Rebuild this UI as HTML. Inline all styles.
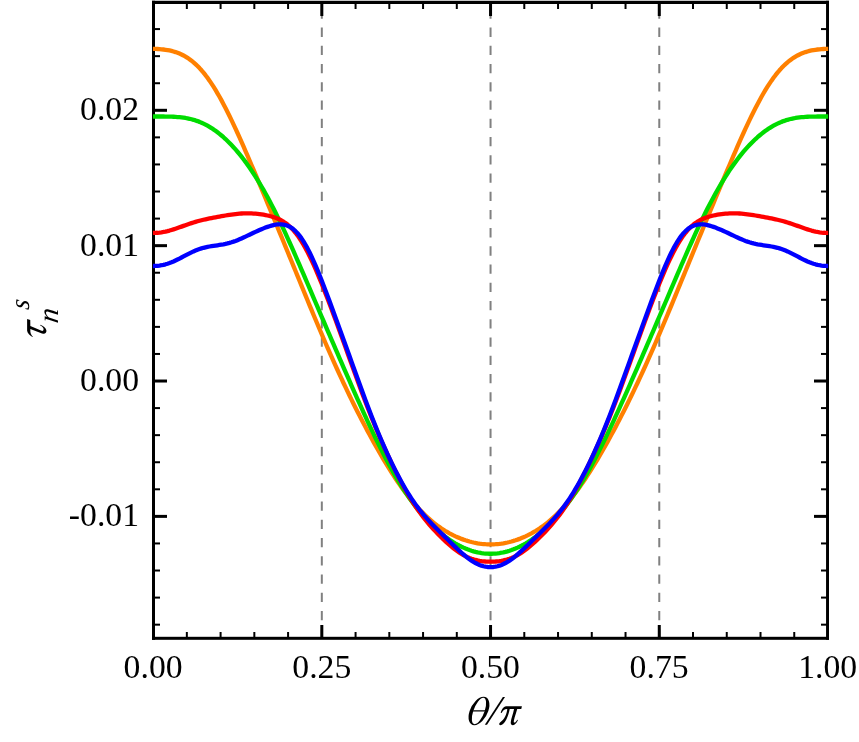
<!DOCTYPE html>
<html><head><meta charset="utf-8"><title>chart</title>
<style>
html,body{margin:0;padding:0;background:#fff;}
body{width:859px;height:742px;position:relative;overflow:hidden;font-family:"Liberation Serif",serif;}
.s{font-family:"Liberation Serif",serif;fill:#000;}
</style></head><body>
<svg width="859" height="742" viewBox="0 0 859 742" style="position:absolute;left:0;top:0;will-change:transform">
<rect x="0" y="0" width="859" height="742" fill="#fff"/>
<line x1="321.82" y1="4" x2="321.82" y2="638.4" stroke="#808080" stroke-width="2" stroke-dasharray="9.3 8.93" stroke-dashoffset="12.88"/>
<line x1="490.55" y1="4" x2="490.55" y2="638.4" stroke="#808080" stroke-width="2" stroke-dasharray="9.3 8.93" stroke-dashoffset="12.88"/>
<line x1="659.27" y1="4" x2="659.27" y2="638.4" stroke="#808080" stroke-width="2" stroke-dasharray="9.3 8.93" stroke-dashoffset="12.88"/>
<line x1="186.84" y1="638.4" x2="186.84" y2="632" stroke="#000" stroke-width="2"/>
<line x1="186.84" y1="2.45" x2="186.84" y2="9" stroke="#000" stroke-width="2"/>
<line x1="220.59" y1="638.4" x2="220.59" y2="632" stroke="#000" stroke-width="2"/>
<line x1="220.59" y1="2.45" x2="220.59" y2="9" stroke="#000" stroke-width="2"/>
<line x1="254.33" y1="638.4" x2="254.33" y2="632" stroke="#000" stroke-width="2"/>
<line x1="254.33" y1="2.45" x2="254.33" y2="9" stroke="#000" stroke-width="2"/>
<line x1="288.08" y1="638.4" x2="288.08" y2="632" stroke="#000" stroke-width="2"/>
<line x1="288.08" y1="2.45" x2="288.08" y2="9" stroke="#000" stroke-width="2"/>
<line x1="321.82" y1="638.4" x2="321.82" y2="625" stroke="#000" stroke-width="3"/>
<line x1="321.82" y1="2.45" x2="321.82" y2="16" stroke="#000" stroke-width="3"/>
<line x1="355.57" y1="638.4" x2="355.57" y2="632" stroke="#000" stroke-width="2"/>
<line x1="355.57" y1="2.45" x2="355.57" y2="9" stroke="#000" stroke-width="2"/>
<line x1="389.31" y1="638.4" x2="389.31" y2="632" stroke="#000" stroke-width="2"/>
<line x1="389.31" y1="2.45" x2="389.31" y2="9" stroke="#000" stroke-width="2"/>
<line x1="423.06" y1="638.4" x2="423.06" y2="632" stroke="#000" stroke-width="2"/>
<line x1="423.06" y1="2.45" x2="423.06" y2="9" stroke="#000" stroke-width="2"/>
<line x1="456.80" y1="638.4" x2="456.80" y2="632" stroke="#000" stroke-width="2"/>
<line x1="456.80" y1="2.45" x2="456.80" y2="9" stroke="#000" stroke-width="2"/>
<line x1="490.55" y1="638.4" x2="490.55" y2="625" stroke="#000" stroke-width="3"/>
<line x1="490.55" y1="2.45" x2="490.55" y2="16" stroke="#000" stroke-width="3"/>
<line x1="524.29" y1="638.4" x2="524.29" y2="632" stroke="#000" stroke-width="2"/>
<line x1="524.29" y1="2.45" x2="524.29" y2="9" stroke="#000" stroke-width="2"/>
<line x1="558.04" y1="638.4" x2="558.04" y2="632" stroke="#000" stroke-width="2"/>
<line x1="558.04" y1="2.45" x2="558.04" y2="9" stroke="#000" stroke-width="2"/>
<line x1="591.78" y1="638.4" x2="591.78" y2="632" stroke="#000" stroke-width="2"/>
<line x1="591.78" y1="2.45" x2="591.78" y2="9" stroke="#000" stroke-width="2"/>
<line x1="625.53" y1="638.4" x2="625.53" y2="632" stroke="#000" stroke-width="2"/>
<line x1="625.53" y1="2.45" x2="625.53" y2="9" stroke="#000" stroke-width="2"/>
<line x1="659.27" y1="638.4" x2="659.27" y2="625" stroke="#000" stroke-width="3"/>
<line x1="659.27" y1="2.45" x2="659.27" y2="16" stroke="#000" stroke-width="3"/>
<line x1="693.02" y1="638.4" x2="693.02" y2="632" stroke="#000" stroke-width="2"/>
<line x1="693.02" y1="2.45" x2="693.02" y2="9" stroke="#000" stroke-width="2"/>
<line x1="726.76" y1="638.4" x2="726.76" y2="632" stroke="#000" stroke-width="2"/>
<line x1="726.76" y1="2.45" x2="726.76" y2="9" stroke="#000" stroke-width="2"/>
<line x1="760.51" y1="638.4" x2="760.51" y2="632" stroke="#000" stroke-width="2"/>
<line x1="760.51" y1="2.45" x2="760.51" y2="9" stroke="#000" stroke-width="2"/>
<line x1="794.25" y1="638.4" x2="794.25" y2="632" stroke="#000" stroke-width="2"/>
<line x1="794.25" y1="2.45" x2="794.25" y2="9" stroke="#000" stroke-width="2"/>
<line x1="153.5" y1="624.67" x2="160" y2="624.67" stroke="#000" stroke-width="2"/>
<line x1="827.5" y1="624.67" x2="821" y2="624.67" stroke="#000" stroke-width="2"/>
<line x1="153.5" y1="597.60" x2="160" y2="597.60" stroke="#000" stroke-width="2"/>
<line x1="827.5" y1="597.60" x2="821" y2="597.60" stroke="#000" stroke-width="2"/>
<line x1="153.5" y1="570.52" x2="160" y2="570.52" stroke="#000" stroke-width="2"/>
<line x1="827.5" y1="570.52" x2="821" y2="570.52" stroke="#000" stroke-width="2"/>
<line x1="153.5" y1="543.45" x2="160" y2="543.45" stroke="#000" stroke-width="2"/>
<line x1="827.5" y1="543.45" x2="821" y2="543.45" stroke="#000" stroke-width="2"/>
<line x1="153.5" y1="516.38" x2="167" y2="516.38" stroke="#000" stroke-width="3"/>
<line x1="827.5" y1="516.38" x2="814" y2="516.38" stroke="#000" stroke-width="3"/>
<line x1="153.5" y1="489.31" x2="160" y2="489.31" stroke="#000" stroke-width="2"/>
<line x1="827.5" y1="489.31" x2="821" y2="489.31" stroke="#000" stroke-width="2"/>
<line x1="153.5" y1="462.24" x2="160" y2="462.24" stroke="#000" stroke-width="2"/>
<line x1="827.5" y1="462.24" x2="821" y2="462.24" stroke="#000" stroke-width="2"/>
<line x1="153.5" y1="435.16" x2="160" y2="435.16" stroke="#000" stroke-width="2"/>
<line x1="827.5" y1="435.16" x2="821" y2="435.16" stroke="#000" stroke-width="2"/>
<line x1="153.5" y1="408.09" x2="160" y2="408.09" stroke="#000" stroke-width="2"/>
<line x1="827.5" y1="408.09" x2="821" y2="408.09" stroke="#000" stroke-width="2"/>
<line x1="153.5" y1="381.02" x2="167" y2="381.02" stroke="#000" stroke-width="3"/>
<line x1="827.5" y1="381.02" x2="814" y2="381.02" stroke="#000" stroke-width="3"/>
<line x1="153.5" y1="353.95" x2="160" y2="353.95" stroke="#000" stroke-width="2"/>
<line x1="827.5" y1="353.95" x2="821" y2="353.95" stroke="#000" stroke-width="2"/>
<line x1="153.5" y1="326.88" x2="160" y2="326.88" stroke="#000" stroke-width="2"/>
<line x1="827.5" y1="326.88" x2="821" y2="326.88" stroke="#000" stroke-width="2"/>
<line x1="153.5" y1="299.80" x2="160" y2="299.80" stroke="#000" stroke-width="2"/>
<line x1="827.5" y1="299.80" x2="821" y2="299.80" stroke="#000" stroke-width="2"/>
<line x1="153.5" y1="272.73" x2="160" y2="272.73" stroke="#000" stroke-width="2"/>
<line x1="827.5" y1="272.73" x2="821" y2="272.73" stroke="#000" stroke-width="2"/>
<line x1="153.5" y1="245.66" x2="167" y2="245.66" stroke="#000" stroke-width="3"/>
<line x1="827.5" y1="245.66" x2="814" y2="245.66" stroke="#000" stroke-width="3"/>
<line x1="153.5" y1="218.59" x2="160" y2="218.59" stroke="#000" stroke-width="2"/>
<line x1="827.5" y1="218.59" x2="821" y2="218.59" stroke="#000" stroke-width="2"/>
<line x1="153.5" y1="191.52" x2="160" y2="191.52" stroke="#000" stroke-width="2"/>
<line x1="827.5" y1="191.52" x2="821" y2="191.52" stroke="#000" stroke-width="2"/>
<line x1="153.5" y1="164.44" x2="160" y2="164.44" stroke="#000" stroke-width="2"/>
<line x1="827.5" y1="164.44" x2="821" y2="164.44" stroke="#000" stroke-width="2"/>
<line x1="153.5" y1="137.37" x2="160" y2="137.37" stroke="#000" stroke-width="2"/>
<line x1="827.5" y1="137.37" x2="821" y2="137.37" stroke="#000" stroke-width="2"/>
<line x1="153.5" y1="110.30" x2="167" y2="110.30" stroke="#000" stroke-width="3"/>
<line x1="827.5" y1="110.30" x2="814" y2="110.30" stroke="#000" stroke-width="3"/>
<line x1="153.5" y1="83.23" x2="160" y2="83.23" stroke="#000" stroke-width="2"/>
<line x1="827.5" y1="83.23" x2="821" y2="83.23" stroke="#000" stroke-width="2"/>
<line x1="153.5" y1="56.16" x2="160" y2="56.16" stroke="#000" stroke-width="2"/>
<line x1="827.5" y1="56.16" x2="821" y2="56.16" stroke="#000" stroke-width="2"/>
<line x1="153.5" y1="29.08" x2="160" y2="29.08" stroke="#000" stroke-width="2"/>
<line x1="827.5" y1="29.08" x2="821" y2="29.08" stroke="#000" stroke-width="2"/>
<rect x="152.0" y="0.78" width="677.0" height="3.22" fill="#000"/>
<rect x="152.0" y="636.8" width="677.0" height="3.0" fill="#000"/>
<rect x="152.0" y="0.78" width="3.0" height="639.02" fill="#000"/>
<rect x="826.05" y="0.78" width="2.95" height="639.02" fill="#000"/>
<path d="M152.9,48.93 L153.5,48.93 L155.5,48.95 L157.5,49.01 L159.5,49.13 L161.5,49.29 L163.5,49.50 L165.5,49.76 L167.5,50.08 L169.5,50.47 L171.5,50.93 L173.5,51.46 L175.5,52.07 L177.5,52.77 L179.5,53.57 L181.5,54.46 L183.5,55.47 L185.5,56.59 L187.5,57.83 L189.5,59.19 L191.5,60.69 L193.5,62.32 L195.5,64.10 L197.5,66.02 L199.5,68.08 L201.5,70.29 L203.5,72.66 L205.5,75.17 L207.5,77.83 L209.5,80.64 L211.5,83.59 L213.5,86.68 L215.5,89.92 L217.5,93.29 L219.5,96.78 L221.5,100.40 L223.5,104.14 L225.5,107.98 L227.5,111.94 L229.5,115.98 L231.5,120.12 L233.5,124.34 L235.5,128.64 L237.5,133.00 L239.5,137.43 L241.5,141.92 L243.5,146.45 L245.5,151.03 L247.5,155.64 L249.5,160.29 L251.5,164.97 L253.5,169.67 L255.5,174.40 L257.5,179.14 L259.5,183.90 L261.5,188.68 L263.5,193.46 L265.5,198.26 L267.5,203.06 L269.5,207.88 L271.5,212.70 L273.5,217.53 L275.5,222.36 L277.5,227.21 L279.5,232.06 L281.5,236.91 L283.5,241.78 L285.5,246.64 L287.5,251.52 L289.5,256.39 L291.5,261.27 L293.5,266.16 L295.5,271.04 L297.5,275.92 L299.5,280.80 L301.5,285.68 L303.5,290.55 L305.5,295.41 L307.5,300.26 L309.5,305.10 L311.5,309.92 L313.5,314.72 L315.5,319.50 L317.5,324.25 L319.5,328.98 L321.5,333.68 L323.5,338.35 L325.5,342.99 L327.5,347.59 L329.5,352.16 L331.5,356.68 L333.5,361.17 L335.5,365.61 L337.5,370.01 L339.5,374.37 L341.5,378.69 L343.5,382.97 L345.5,387.19 L347.5,391.38 L349.5,395.52 L351.5,399.62 L353.5,403.68 L355.5,407.69 L357.5,411.66 L359.5,415.59 L361.5,419.47 L363.5,423.32 L365.5,427.12 L367.5,430.88 L369.5,434.59 L371.5,438.26 L373.5,441.89 L375.5,445.47 L377.5,449.00 L379.5,452.49 L381.5,455.92 L383.5,459.31 L385.5,462.64 L387.5,465.92 L389.5,469.15 L391.5,472.31 L393.5,475.42 L395.5,478.46 L397.5,481.43 L399.5,484.35 L401.5,487.19 L403.5,489.96 L405.5,492.66 L407.5,495.29 L409.5,497.84 L411.5,500.32 L413.5,502.73 L415.5,505.05 L417.5,507.30 L419.5,509.48 L421.5,511.57 L423.5,513.59 L425.5,515.54 L427.5,517.41 L429.5,519.20 L431.5,520.92 L433.5,522.57 L435.5,524.15 L437.5,525.66 L439.5,527.10 L441.5,528.48 L443.5,529.79 L445.5,531.04 L447.5,532.22 L449.5,533.35 L451.5,534.41 L453.5,535.42 L455.5,536.37 L457.5,537.26 L459.5,538.10 L461.5,538.89 L463.5,539.62 L465.5,540.30 L467.5,540.92 L469.5,541.49 L471.5,542.01 L473.5,542.48 L475.5,542.90 L477.5,543.26 L479.5,543.57 L481.5,543.83 L483.5,544.04 L485.5,544.20 L487.5,544.30 L489.5,544.36 L491.5,544.36 L493.5,544.30 L495.5,544.20 L497.5,544.04 L499.5,543.83 L501.5,543.57 L503.5,543.26 L505.5,542.90 L507.5,542.48 L509.5,542.01 L511.5,541.49 L513.5,540.92 L515.5,540.30 L517.5,539.62 L519.5,538.89 L521.5,538.10 L523.5,537.26 L525.5,536.37 L527.5,535.42 L529.5,534.41 L531.5,533.35 L533.5,532.22 L535.5,531.04 L537.5,529.79 L539.5,528.48 L541.5,527.10 L543.5,525.66 L545.5,524.15 L547.5,522.57 L549.5,520.92 L551.5,519.20 L553.5,517.41 L555.5,515.54 L557.5,513.59 L559.5,511.57 L561.5,509.48 L563.5,507.30 L565.5,505.05 L567.5,502.73 L569.5,500.32 L571.5,497.84 L573.5,495.29 L575.5,492.66 L577.5,489.96 L579.5,487.19 L581.5,484.35 L583.5,481.43 L585.5,478.46 L587.5,475.42 L589.5,472.31 L591.5,469.15 L593.5,465.92 L595.5,462.64 L597.5,459.31 L599.5,455.92 L601.5,452.49 L603.5,449.00 L605.5,445.47 L607.5,441.89 L609.5,438.26 L611.5,434.59 L613.5,430.88 L615.5,427.12 L617.5,423.32 L619.5,419.47 L621.5,415.59 L623.5,411.66 L625.5,407.69 L627.5,403.68 L629.5,399.62 L631.5,395.52 L633.5,391.38 L635.5,387.19 L637.5,382.97 L639.5,378.69 L641.5,374.37 L643.5,370.01 L645.5,365.61 L647.5,361.17 L649.5,356.68 L651.5,352.16 L653.5,347.59 L655.5,342.99 L657.5,338.35 L659.5,333.68 L661.5,328.98 L663.5,324.25 L665.5,319.50 L667.5,314.72 L669.5,309.92 L671.5,305.10 L673.5,300.26 L675.5,295.41 L677.5,290.55 L679.5,285.68 L681.5,280.80 L683.5,275.92 L685.5,271.04 L687.5,266.16 L689.5,261.27 L691.5,256.39 L693.5,251.52 L695.5,246.64 L697.5,241.78 L699.5,236.91 L701.5,232.06 L703.5,227.21 L705.5,222.36 L707.5,217.53 L709.5,212.70 L711.5,207.88 L713.5,203.06 L715.5,198.26 L717.5,193.46 L719.5,188.68 L721.5,183.90 L723.5,179.14 L725.5,174.40 L727.5,169.67 L729.5,164.97 L731.5,160.29 L733.5,155.64 L735.5,151.03 L737.5,146.45 L739.5,141.92 L741.5,137.43 L743.5,133.00 L745.5,128.64 L747.5,124.34 L749.5,120.12 L751.5,115.98 L753.5,111.94 L755.5,107.98 L757.5,104.14 L759.5,100.40 L761.5,96.78 L763.5,93.29 L765.5,89.92 L767.5,86.68 L769.5,83.59 L771.5,80.64 L773.5,77.83 L775.5,75.17 L777.5,72.66 L779.5,70.29 L781.5,68.08 L783.5,66.02 L785.5,64.10 L787.5,62.32 L789.5,60.69 L791.5,59.19 L793.5,57.83 L795.5,56.59 L797.5,55.47 L799.5,54.46 L801.5,53.57 L803.5,52.77 L805.5,52.07 L807.5,51.46 L809.5,50.93 L811.5,50.47 L813.5,50.08 L815.5,49.76 L817.5,49.50 L819.5,49.29 L821.5,49.13 L823.5,49.01 L825.5,48.95 L827.5,48.93 L828.2,48.93" fill="none" stroke="#ff8000" stroke-width="4.3" stroke-linejoin="round" stroke-linecap="butt"/>
<path d="M152.9,116.48 L153.5,116.48 L155.5,116.48 L157.5,116.48 L159.5,116.49 L161.5,116.50 L163.5,116.51 L165.5,116.53 L167.5,116.56 L169.5,116.61 L171.5,116.68 L173.5,116.76 L175.5,116.88 L177.5,117.02 L179.5,117.20 L181.5,117.42 L183.5,117.68 L185.5,117.99 L187.5,118.36 L189.5,118.78 L191.5,119.26 L193.5,119.81 L195.5,120.42 L197.5,121.11 L199.5,121.87 L201.5,122.70 L203.5,123.62 L205.5,124.61 L207.5,125.68 L209.5,126.83 L211.5,128.07 L213.5,129.39 L215.5,130.79 L217.5,132.27 L219.5,133.84 L221.5,135.50 L223.5,137.23 L225.5,139.05 L227.5,140.96 L229.5,142.94 L231.5,145.02 L233.5,147.17 L235.5,149.41 L237.5,151.74 L239.5,154.15 L241.5,156.64 L243.5,159.23 L245.5,161.90 L247.5,164.66 L249.5,167.50 L251.5,170.44 L253.5,173.47 L255.5,176.58 L257.5,179.79 L259.5,183.08 L261.5,186.47 L263.5,189.94 L265.5,193.50 L267.5,197.15 L269.5,200.88 L271.5,204.69 L273.5,208.59 L275.5,212.56 L277.5,216.61 L279.5,220.73 L281.5,224.91 L283.5,229.16 L285.5,233.47 L287.5,237.83 L289.5,242.25 L291.5,246.71 L293.5,251.21 L295.5,255.75 L297.5,260.32 L299.5,264.91 L301.5,269.53 L303.5,274.18 L305.5,278.83 L307.5,283.50 L309.5,288.18 L311.5,292.86 L313.5,297.55 L315.5,302.24 L317.5,306.92 L319.5,311.61 L321.5,316.28 L323.5,320.96 L325.5,325.63 L327.5,330.29 L329.5,334.94 L331.5,339.58 L333.5,344.22 L335.5,348.85 L337.5,353.47 L339.5,358.08 L341.5,362.68 L343.5,367.27 L345.5,371.85 L347.5,376.42 L349.5,380.97 L351.5,385.51 L353.5,390.04 L355.5,394.54 L357.5,399.03 L359.5,403.49 L361.5,407.92 L363.5,412.33 L365.5,416.71 L367.5,421.05 L369.5,425.35 L371.5,429.60 L373.5,433.82 L375.5,437.98 L377.5,442.09 L379.5,446.14 L381.5,450.14 L383.5,454.06 L385.5,457.93 L387.5,461.72 L389.5,465.44 L391.5,469.08 L393.5,472.65 L395.5,476.13 L397.5,479.54 L399.5,482.86 L401.5,486.10 L403.5,489.26 L405.5,492.33 L407.5,495.32 L409.5,498.22 L411.5,501.03 L413.5,503.77 L415.5,506.42 L417.5,508.98 L419.5,511.47 L421.5,513.87 L423.5,516.20 L425.5,518.44 L427.5,520.61 L429.5,522.71 L431.5,524.73 L433.5,526.67 L435.5,528.55 L437.5,530.35 L439.5,532.08 L441.5,533.75 L443.5,535.34 L445.5,536.87 L447.5,538.33 L449.5,539.73 L451.5,541.05 L453.5,542.32 L455.5,543.51 L457.5,544.64 L459.5,545.71 L461.5,546.71 L463.5,547.64 L465.5,548.51 L467.5,549.31 L469.5,550.05 L471.5,550.72 L473.5,551.33 L475.5,551.86 L477.5,552.33 L479.5,552.74 L481.5,553.08 L483.5,553.35 L485.5,553.55 L487.5,553.68 L489.5,553.75 L491.5,553.75 L493.5,553.68 L495.5,553.55 L497.5,553.35 L499.5,553.08 L501.5,552.74 L503.5,552.33 L505.5,551.86 L507.5,551.33 L509.5,550.72 L511.5,550.05 L513.5,549.31 L515.5,548.51 L517.5,547.64 L519.5,546.71 L521.5,545.71 L523.5,544.64 L525.5,543.51 L527.5,542.32 L529.5,541.05 L531.5,539.73 L533.5,538.33 L535.5,536.87 L537.5,535.34 L539.5,533.75 L541.5,532.08 L543.5,530.35 L545.5,528.55 L547.5,526.67 L549.5,524.73 L551.5,522.71 L553.5,520.61 L555.5,518.44 L557.5,516.20 L559.5,513.87 L561.5,511.47 L563.5,508.98 L565.5,506.42 L567.5,503.77 L569.5,501.03 L571.5,498.22 L573.5,495.32 L575.5,492.33 L577.5,489.26 L579.5,486.10 L581.5,482.86 L583.5,479.54 L585.5,476.13 L587.5,472.65 L589.5,469.08 L591.5,465.44 L593.5,461.72 L595.5,457.93 L597.5,454.06 L599.5,450.14 L601.5,446.14 L603.5,442.09 L605.5,437.98 L607.5,433.82 L609.5,429.60 L611.5,425.35 L613.5,421.05 L615.5,416.71 L617.5,412.33 L619.5,407.92 L621.5,403.49 L623.5,399.03 L625.5,394.54 L627.5,390.04 L629.5,385.51 L631.5,380.97 L633.5,376.42 L635.5,371.85 L637.5,367.27 L639.5,362.68 L641.5,358.08 L643.5,353.47 L645.5,348.85 L647.5,344.22 L649.5,339.58 L651.5,334.94 L653.5,330.29 L655.5,325.63 L657.5,320.96 L659.5,316.28 L661.5,311.61 L663.5,306.92 L665.5,302.24 L667.5,297.55 L669.5,292.86 L671.5,288.18 L673.5,283.50 L675.5,278.83 L677.5,274.18 L679.5,269.53 L681.5,264.91 L683.5,260.32 L685.5,255.75 L687.5,251.21 L689.5,246.71 L691.5,242.25 L693.5,237.83 L695.5,233.47 L697.5,229.16 L699.5,224.91 L701.5,220.73 L703.5,216.61 L705.5,212.56 L707.5,208.59 L709.5,204.69 L711.5,200.88 L713.5,197.15 L715.5,193.50 L717.5,189.94 L719.5,186.47 L721.5,183.08 L723.5,179.79 L725.5,176.58 L727.5,173.47 L729.5,170.44 L731.5,167.50 L733.5,164.66 L735.5,161.90 L737.5,159.23 L739.5,156.64 L741.5,154.15 L743.5,151.74 L745.5,149.41 L747.5,147.17 L749.5,145.02 L751.5,142.94 L753.5,140.96 L755.5,139.05 L757.5,137.23 L759.5,135.50 L761.5,133.84 L763.5,132.27 L765.5,130.79 L767.5,129.39 L769.5,128.07 L771.5,126.83 L773.5,125.68 L775.5,124.61 L777.5,123.62 L779.5,122.70 L781.5,121.87 L783.5,121.11 L785.5,120.42 L787.5,119.81 L789.5,119.26 L791.5,118.78 L793.5,118.36 L795.5,117.99 L797.5,117.68 L799.5,117.42 L801.5,117.20 L803.5,117.02 L805.5,116.88 L807.5,116.76 L809.5,116.68 L811.5,116.61 L813.5,116.56 L815.5,116.53 L817.5,116.51 L819.5,116.50 L821.5,116.49 L823.5,116.48 L825.5,116.48 L827.5,116.48 L828.2,116.48" fill="none" stroke="#00dc00" stroke-width="4.3" stroke-linejoin="round" stroke-linecap="butt"/>
<path d="M152.9,232.92 L153.5,232.92 L155.5,232.89 L157.5,232.77 L159.5,232.57 L161.5,232.30 L163.5,231.96 L165.5,231.55 L167.5,231.08 L169.5,230.56 L171.5,229.98 L173.5,229.36 L175.5,228.70 L177.5,228.02 L179.5,227.31 L181.5,226.60 L183.5,225.88 L185.5,225.16 L187.5,224.46 L189.5,223.77 L191.5,223.11 L193.5,222.47 L195.5,221.86 L197.5,221.28 L199.5,220.74 L201.5,220.22 L203.5,219.74 L205.5,219.28 L207.5,218.85 L209.5,218.43 L211.5,218.03 L213.5,217.65 L215.5,217.27 L217.5,216.90 L219.5,216.54 L221.5,216.19 L223.5,215.84 L225.5,215.50 L227.5,215.17 L229.5,214.86 L231.5,214.56 L233.5,214.29 L235.5,214.04 L237.5,213.82 L239.5,213.64 L241.5,213.50 L243.5,213.40 L245.5,213.34 L247.5,213.33 L249.5,213.36 L251.5,213.44 L253.5,213.56 L255.5,213.71 L257.5,213.91 L259.5,214.15 L261.5,214.42 L263.5,214.74 L265.5,215.10 L267.5,215.50 L269.5,215.96 L271.5,216.49 L273.5,217.08 L275.5,217.76 L277.5,218.55 L279.5,219.45 L281.5,220.48 L283.5,221.66 L285.5,223.01 L287.5,224.54 L289.5,226.27 L291.5,228.21 L293.5,230.37 L295.5,232.76 L297.5,235.38 L299.5,238.25 L301.5,241.34 L303.5,244.67 L305.5,248.23 L307.5,252.00 L309.5,255.97 L311.5,260.13 L313.5,264.47 L315.5,268.97 L317.5,273.61 L319.5,278.38 L321.5,283.27 L323.5,288.27 L325.5,293.35 L327.5,298.52 L329.5,303.76 L331.5,309.06 L333.5,314.41 L335.5,319.81 L337.5,325.26 L339.5,330.74 L341.5,336.25 L343.5,341.79 L345.5,347.34 L347.5,352.90 L349.5,358.47 L351.5,364.03 L353.5,369.57 L355.5,375.10 L357.5,380.58 L359.5,386.03 L361.5,391.42 L363.5,396.75 L365.5,402.02 L367.5,407.21 L369.5,412.32 L371.5,417.35 L373.5,422.29 L375.5,427.14 L377.5,431.91 L379.5,436.60 L381.5,441.20 L383.5,445.71 L385.5,450.15 L387.5,454.50 L389.5,458.78 L391.5,462.97 L393.5,467.09 L395.5,471.13 L397.5,475.09 L399.5,478.96 L401.5,482.74 L403.5,486.42 L405.5,490.01 L407.5,493.50 L409.5,496.88 L411.5,500.15 L413.5,503.30 L415.5,506.35 L417.5,509.28 L419.5,512.11 L421.5,514.83 L423.5,517.45 L425.5,519.97 L427.5,522.41 L429.5,524.76 L431.5,527.04 L433.5,529.26 L435.5,531.41 L437.5,533.50 L439.5,535.54 L441.5,537.53 L443.5,539.47 L445.5,541.36 L447.5,543.19 L449.5,544.96 L451.5,546.66 L453.5,548.29 L455.5,549.85 L457.5,551.31 L459.5,552.68 L461.5,553.96 L463.5,555.13 L465.5,556.19 L467.5,557.15 L469.5,558.01 L471.5,558.76 L473.5,559.40 L475.5,559.96 L477.5,560.42 L479.5,560.80 L481.5,561.11 L483.5,561.34 L485.5,561.51 L487.5,561.62 L489.5,561.68 L491.5,561.68 L493.5,561.62 L495.5,561.51 L497.5,561.34 L499.5,561.11 L501.5,560.80 L503.5,560.42 L505.5,559.96 L507.5,559.40 L509.5,558.76 L511.5,558.01 L513.5,557.15 L515.5,556.19 L517.5,555.13 L519.5,553.96 L521.5,552.68 L523.5,551.31 L525.5,549.85 L527.5,548.29 L529.5,546.66 L531.5,544.96 L533.5,543.19 L535.5,541.36 L537.5,539.47 L539.5,537.53 L541.5,535.54 L543.5,533.50 L545.5,531.41 L547.5,529.26 L549.5,527.04 L551.5,524.76 L553.5,522.41 L555.5,519.97 L557.5,517.45 L559.5,514.83 L561.5,512.11 L563.5,509.28 L565.5,506.35 L567.5,503.30 L569.5,500.15 L571.5,496.88 L573.5,493.50 L575.5,490.01 L577.5,486.42 L579.5,482.74 L581.5,478.96 L583.5,475.09 L585.5,471.13 L587.5,467.09 L589.5,462.97 L591.5,458.78 L593.5,454.50 L595.5,450.15 L597.5,445.71 L599.5,441.20 L601.5,436.60 L603.5,431.91 L605.5,427.14 L607.5,422.29 L609.5,417.35 L611.5,412.32 L613.5,407.21 L615.5,402.02 L617.5,396.75 L619.5,391.42 L621.5,386.03 L623.5,380.58 L625.5,375.10 L627.5,369.57 L629.5,364.03 L631.5,358.47 L633.5,352.90 L635.5,347.34 L637.5,341.79 L639.5,336.25 L641.5,330.74 L643.5,325.26 L645.5,319.81 L647.5,314.41 L649.5,309.06 L651.5,303.76 L653.5,298.52 L655.5,293.35 L657.5,288.27 L659.5,283.27 L661.5,278.38 L663.5,273.61 L665.5,268.97 L667.5,264.47 L669.5,260.13 L671.5,255.97 L673.5,252.00 L675.5,248.23 L677.5,244.67 L679.5,241.34 L681.5,238.25 L683.5,235.38 L685.5,232.76 L687.5,230.37 L689.5,228.21 L691.5,226.27 L693.5,224.54 L695.5,223.01 L697.5,221.66 L699.5,220.48 L701.5,219.45 L703.5,218.55 L705.5,217.76 L707.5,217.08 L709.5,216.49 L711.5,215.96 L713.5,215.50 L715.5,215.10 L717.5,214.74 L719.5,214.42 L721.5,214.15 L723.5,213.91 L725.5,213.71 L727.5,213.56 L729.5,213.44 L731.5,213.36 L733.5,213.33 L735.5,213.34 L737.5,213.40 L739.5,213.50 L741.5,213.64 L743.5,213.82 L745.5,214.04 L747.5,214.29 L749.5,214.56 L751.5,214.86 L753.5,215.17 L755.5,215.50 L757.5,215.84 L759.5,216.19 L761.5,216.54 L763.5,216.90 L765.5,217.27 L767.5,217.65 L769.5,218.03 L771.5,218.43 L773.5,218.85 L775.5,219.28 L777.5,219.74 L779.5,220.22 L781.5,220.74 L783.5,221.28 L785.5,221.86 L787.5,222.47 L789.5,223.11 L791.5,223.77 L793.5,224.46 L795.5,225.16 L797.5,225.88 L799.5,226.60 L801.5,227.31 L803.5,228.02 L805.5,228.70 L807.5,229.36 L809.5,229.98 L811.5,230.56 L813.5,231.08 L815.5,231.55 L817.5,231.96 L819.5,232.30 L821.5,232.57 L823.5,232.77 L825.5,232.89 L827.5,232.92 L828.2,232.92" fill="none" stroke="#ff0000" stroke-width="4.3" stroke-linejoin="round" stroke-linecap="butt"/>
<path d="M152.9,265.98 L153.5,265.98 L155.5,265.94 L157.5,265.80 L159.5,265.56 L161.5,265.24 L163.5,264.82 L165.5,264.31 L167.5,263.71 L169.5,263.03 L171.5,262.26 L173.5,261.43 L175.5,260.52 L177.5,259.56 L179.5,258.56 L181.5,257.52 L183.5,256.46 L185.5,255.40 L187.5,254.35 L189.5,253.33 L191.5,252.34 L193.5,251.41 L195.5,250.54 L197.5,249.74 L199.5,249.02 L201.5,248.37 L203.5,247.80 L205.5,247.30 L207.5,246.87 L209.5,246.50 L211.5,246.16 L213.5,245.86 L215.5,245.57 L217.5,245.29 L219.5,244.99 L221.5,244.66 L223.5,244.30 L225.5,243.88 L227.5,243.41 L229.5,242.88 L231.5,242.28 L233.5,241.63 L235.5,240.91 L237.5,240.13 L239.5,239.30 L241.5,238.44 L243.5,237.53 L245.5,236.61 L247.5,235.66 L249.5,234.71 L251.5,233.75 L253.5,232.81 L255.5,231.87 L257.5,230.96 L259.5,230.06 L261.5,229.20 L263.5,228.38 L265.5,227.60 L267.5,226.87 L269.5,226.21 L271.5,225.62 L273.5,225.12 L275.5,224.73 L277.5,224.46 L279.5,224.33 L281.5,224.37 L283.5,224.60 L285.5,225.04 L287.5,225.71 L289.5,226.64 L291.5,227.84 L293.5,229.33 L295.5,231.12 L297.5,233.22 L299.5,235.64 L301.5,238.36 L303.5,241.40 L305.5,244.74 L307.5,248.37 L309.5,252.26 L311.5,256.40 L313.5,260.78 L315.5,265.35 L317.5,270.10 L319.5,275.01 L321.5,280.05 L323.5,285.19 L325.5,290.43 L327.5,295.73 L329.5,301.10 L331.5,306.50 L333.5,311.94 L335.5,317.40 L337.5,322.89 L339.5,328.39 L341.5,333.91 L343.5,339.44 L345.5,344.99 L347.5,350.54 L349.5,356.10 L351.5,361.66 L353.5,367.22 L355.5,372.78 L357.5,378.32 L359.5,383.84 L361.5,389.32 L363.5,394.77 L365.5,400.17 L367.5,405.50 L369.5,410.77 L371.5,415.96 L373.5,421.07 L375.5,426.08 L377.5,431.00 L379.5,435.82 L381.5,440.54 L383.5,445.16 L385.5,449.67 L387.5,454.08 L389.5,458.39 L391.5,462.58 L393.5,466.68 L395.5,470.67 L397.5,474.55 L399.5,478.33 L401.5,481.99 L403.5,485.54 L405.5,488.98 L407.5,492.30 L409.5,495.50 L411.5,498.58 L413.5,501.54 L415.5,504.38 L417.5,507.10 L419.5,509.71 L421.5,512.21 L423.5,514.61 L425.5,516.92 L427.5,519.15 L429.5,521.31 L431.5,523.42 L433.5,525.47 L435.5,527.49 L437.5,529.48 L439.5,531.46 L441.5,533.43 L443.5,535.40 L445.5,537.37 L447.5,539.33 L449.5,541.30 L451.5,543.26 L453.5,545.22 L455.5,547.15 L457.5,549.05 L459.5,550.92 L461.5,552.73 L463.5,554.48 L465.5,556.15 L467.5,557.74 L469.5,559.23 L471.5,560.62 L473.5,561.88 L475.5,563.03 L477.5,564.04 L479.5,564.91 L481.5,565.65 L483.5,566.24 L485.5,566.69 L487.5,566.99 L489.5,567.13 L491.5,567.13 L493.5,566.99 L495.5,566.69 L497.5,566.24 L499.5,565.65 L501.5,564.91 L503.5,564.04 L505.5,563.03 L507.5,561.88 L509.5,560.62 L511.5,559.23 L513.5,557.74 L515.5,556.15 L517.5,554.48 L519.5,552.73 L521.5,550.92 L523.5,549.05 L525.5,547.15 L527.5,545.22 L529.5,543.26 L531.5,541.30 L533.5,539.33 L535.5,537.37 L537.5,535.40 L539.5,533.43 L541.5,531.46 L543.5,529.48 L545.5,527.49 L547.5,525.47 L549.5,523.42 L551.5,521.31 L553.5,519.15 L555.5,516.92 L557.5,514.61 L559.5,512.21 L561.5,509.71 L563.5,507.10 L565.5,504.38 L567.5,501.54 L569.5,498.58 L571.5,495.50 L573.5,492.30 L575.5,488.98 L577.5,485.54 L579.5,481.99 L581.5,478.33 L583.5,474.55 L585.5,470.67 L587.5,466.68 L589.5,462.58 L591.5,458.39 L593.5,454.08 L595.5,449.67 L597.5,445.16 L599.5,440.54 L601.5,435.82 L603.5,431.00 L605.5,426.08 L607.5,421.07 L609.5,415.96 L611.5,410.77 L613.5,405.50 L615.5,400.17 L617.5,394.77 L619.5,389.32 L621.5,383.84 L623.5,378.32 L625.5,372.78 L627.5,367.22 L629.5,361.66 L631.5,356.10 L633.5,350.54 L635.5,344.99 L637.5,339.44 L639.5,333.91 L641.5,328.39 L643.5,322.89 L645.5,317.40 L647.5,311.94 L649.5,306.50 L651.5,301.10 L653.5,295.73 L655.5,290.43 L657.5,285.19 L659.5,280.05 L661.5,275.01 L663.5,270.10 L665.5,265.35 L667.5,260.78 L669.5,256.40 L671.5,252.26 L673.5,248.37 L675.5,244.74 L677.5,241.40 L679.5,238.36 L681.5,235.64 L683.5,233.22 L685.5,231.12 L687.5,229.33 L689.5,227.84 L691.5,226.64 L693.5,225.71 L695.5,225.04 L697.5,224.60 L699.5,224.37 L701.5,224.33 L703.5,224.46 L705.5,224.73 L707.5,225.12 L709.5,225.62 L711.5,226.21 L713.5,226.87 L715.5,227.60 L717.5,228.38 L719.5,229.20 L721.5,230.06 L723.5,230.96 L725.5,231.87 L727.5,232.81 L729.5,233.75 L731.5,234.71 L733.5,235.66 L735.5,236.61 L737.5,237.53 L739.5,238.44 L741.5,239.30 L743.5,240.13 L745.5,240.91 L747.5,241.63 L749.5,242.28 L751.5,242.88 L753.5,243.41 L755.5,243.88 L757.5,244.30 L759.5,244.66 L761.5,244.99 L763.5,245.29 L765.5,245.57 L767.5,245.86 L769.5,246.16 L771.5,246.50 L773.5,246.87 L775.5,247.30 L777.5,247.80 L779.5,248.37 L781.5,249.02 L783.5,249.74 L785.5,250.54 L787.5,251.41 L789.5,252.34 L791.5,253.33 L793.5,254.35 L795.5,255.40 L797.5,256.46 L799.5,257.52 L801.5,258.56 L803.5,259.56 L805.5,260.52 L807.5,261.43 L809.5,262.26 L811.5,263.03 L813.5,263.71 L815.5,264.31 L817.5,264.82 L819.5,265.24 L821.5,265.56 L823.5,265.80 L825.5,265.94 L827.5,265.98 L828.2,265.98" fill="none" stroke="#0000ff" stroke-width="4.3" stroke-linejoin="round" stroke-linecap="butt"/>
<text x="153.1" y="678.2" font-size="33.7" text-anchor="middle" class="s">0.00</text>
<text x="321.8" y="678.2" font-size="33.7" text-anchor="middle" class="s">0.25</text>
<text x="490.4" y="678.2" font-size="33.7" text-anchor="middle" class="s">0.50</text>
<text x="659.1" y="678.2" font-size="33.7" text-anchor="middle" class="s">0.75</text>
<text x="827.7" y="678.2" font-size="33.7" text-anchor="middle" class="s">1.00</text>
<text x="139" y="120.2" font-size="33.7" text-anchor="end" class="s">0.02</text>
<text x="139" y="255.6" font-size="33.7" text-anchor="end" class="s">0.01</text>
<text x="139" y="390.9" font-size="33.7" text-anchor="end" class="s">0.00</text>
<text x="139" y="526.3" font-size="33.7" text-anchor="end" class="s">-0.01</text>
<g transform="translate(465,692) scale(0.069832)" fill="#000">
<g transform="translate(200,272) skewX(-18)"><path fill-rule="evenodd" d="M-134,0 A134,203 0 1 0 134,0 A134,203 0 1 0 -134,0 Z M-82,0 A82,188 0 1 1 82,0 A82,188 0 1 1 -82,0 Z"/><rect x="-86" y="-9" width="172" height="18"/></g>
<path d="M284,470 L315,470 L573,73 L542,73 Z"/>
<path d="M511,296 C525,250 545,210 590,203 L815,203 L806,244 L600,244 C565,246 545,265 524,302 Z"/>
<path d="M606,240 C598,320 565,395 505,432 C478,450 488,482 520,474 C575,455 622,345 641,240 Z"/>
<path d="M703,240 C690,310 660,385 655,432 C651,470 680,484 706,470 C731,456 746,430 758,402 L747,396 C735,420 722,438 708,438 C697,438 697,424 702,400 C712,350 735,292 749,240 Z"/>
</g>
<g transform="translate(20,310) scale(0.043103)" fill="#000">
<path d="M165,208 L238,232 L240,372 L500,482 C530,492 555,470 545,430 C538,400 505,370 465,352 L470,342 C540,365 600,410 612,470 C620,520 585,560 540,552 C520,548 500,540 480,532 L240,438 L240,500 C245,560 270,590 300,618 L290,628 C230,590 170,540 165,480 Z"/>
</g>
<g transform="rotate(-90)"><g transform="translate(-323.8,57.6) skewX(-8)"><text x="0" y="0" font-size="29" class="s" font-style="italic">n</text></g><g transform="translate(-310.2,29.2) skewX(-8) scale(0.93,1)"><text x="0" y="0" font-size="27.5" class="s" font-style="italic">s</text></g></g>
</svg>
</body></html>
